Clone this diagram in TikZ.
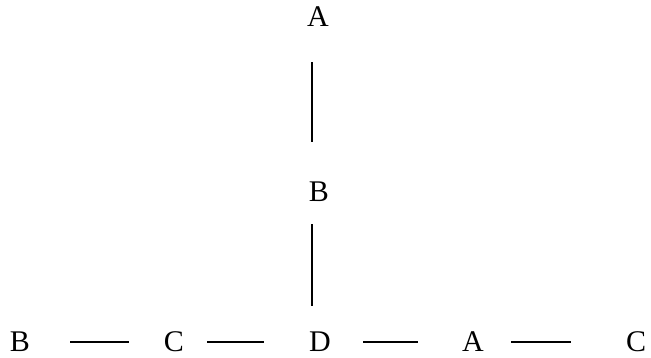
\documentclass[tikz,border=0pt]{standalone}
\usepackage{fontspec}
\setmainfont{Liberation Serif}
\usetikzlibrary{positioning}

\begin{document}
\begin{tikzpicture}[
    x=1pt, y=-1pt,
    letter/.style={inner sep=0pt, font=\fontsize{30}{30}\selectfont},
    link/.style={draw, line width=1.2pt}
]
\useasboundingbox (0,0) rectangle (651,357);

% top column
\node[letter] (topA) at (318,17) {A};
\node[letter] (midB) at (319,192) {B};

% bottom row
\node[letter] (leftB) at (20,342) {B};
\node[letter] (leftC) at (174,342) {C};
\node[letter] (centD) at (320,342) {D};
\node[letter] (rightA) at (473,342) {A};
\node[letter] (rightC) at (636,342) {C};

\draw[link, shorten <=35pt, shorten >=40pt] ([xshift=-6pt]topA.south) -- ([xshift=-7pt]midB.north);
\draw[link, shorten <=22pt, shorten >=26pt] ([xshift=-7pt]midB.south) -- ([xshift=-8pt]centD.north);

\draw[link, shorten <=40pt, shorten >=35pt] (leftB) -- (leftC);
\draw[link, shorten <=23pt, shorten >=45pt] (leftC) -- (centD);
\draw[link, shorten <=32pt, shorten >=44pt] (centD) -- (rightA);
\draw[link, shorten <=27pt, shorten >=55pt] (rightA) -- (rightC);

\end{tikzpicture}
\end{document}
